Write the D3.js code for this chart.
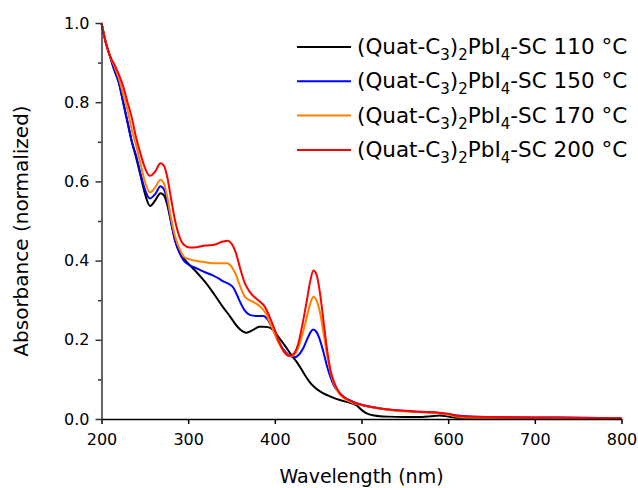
<!DOCTYPE html>
<html>
<head>
<meta charset="utf-8">
<script src="https://cdn.jsdelivr.net/npm/d3@7"></script>
<style>
html,body{margin:0;padding:0;background:#fff;}
svg{display:block;font-family:"DejaVu Sans",Verdana,sans-serif;}
</style>
</head>
<body>
<svg id="chart" width="638" height="488"></svg>
<script>
// ---- data ----
const wl110 = [200,205,210,215,220,225,230,235,240,245,250,256,262,268,272,276,280,285,290,295,302,310,320,330,340,348,355,360,367,375,382,387,392,398,405,412,419,425,430,435,440,445,450,455,465,475,485,490,495,500,506,515,530,550,570,580,590,600,610,650,700,750,800];
const ab110 = [1.0,0.95,0.915,0.88,0.85,0.80,0.75,0.70,0.66,0.615,0.57,0.538,0.552,0.570,0.565,0.54,0.50,0.45,0.42,0.405,0.388,0.37,0.345,0.315,0.283,0.26,0.238,0.226,0.218,0.225,0.233,0.233,0.232,0.225,0.205,0.184,0.162,0.145,0.128,0.11,0.094,0.082,0.073,0.066,0.056,0.048,0.042,0.039,0.033,0.023,0.014,0.009,0.006,0.005,0.005,0.007,0.009,0.006,0.003,0.003,0.002,0.002,0.002];

const wl150 = [200,205,210,215,220,225,230,235,240,245,250,256,262,268,272,276,280,285,290,295,302,310,320,329,335,340,345,352,356,360,365,371,380,387,392,397,403,410,417,423,428,433,438,442,444.5,448,452,456,460,464,468,475,480,490,500,510,520,540,560,580,600,620,650,700,750,800];
const ab150 = [1.0,0.95,0.915,0.88,0.85,0.80,0.75,0.70,0.665,0.62,0.58,0.557,0.568,0.588,0.58,0.55,0.50,0.45,0.42,0.40,0.388,0.38,0.37,0.362,0.355,0.348,0.343,0.332,0.315,0.295,0.275,0.263,0.26,0.26,0.25,0.23,0.20,0.175,0.16,0.156,0.163,0.18,0.205,0.222,0.226,0.22,0.20,0.17,0.135,0.107,0.085,0.065,0.055,0.044,0.036,0.031,0.027,0.022,0.019,0.017,0.012,0.007,0.005,0.004,0.003,0.002];

const wl170 = [200,205,210,215,220,225,230,235,240,245,250,256,262,268,272,276,280,285,290,295,302,310,320,330,340,345,350,355,360,365,371,378,385,390,395,400,405,410,419,425,430,435,440,444.5,448,452,456,460,464,468,475,480,490,500,510,520,540,560,580,590,600,610,620,650,700,750,800];
const ab170 = [1.0,0.95,0.915,0.89,0.86,0.82,0.78,0.73,0.69,0.645,0.60,0.572,0.585,0.604,0.595,0.56,0.51,0.46,0.43,0.41,0.403,0.399,0.396,0.393,0.393,0.393,0.385,0.365,0.335,0.31,0.30,0.292,0.28,0.265,0.24,0.215,0.19,0.172,0.159,0.17,0.20,0.24,0.285,0.309,0.30,0.27,0.22,0.165,0.12,0.09,0.062,0.052,0.041,0.035,0.03,0.027,0.021,0.018,0.016,0.015,0.011,0.006,0.004,0.003,0.003,0.002,0.002];

const wl200 = [200,205,210,215,220,225,230,235,240,245,250,256,262,268,272,276,280,285,290,295,302,310,320,330,340,345,350,355,360,365,371,378,383,388,394,400,405,410,417,422,427,432,437,441,444.5,448,452,456,460,464,468,475,480,490,500,510,520,540,560,580,590,600,610,620,650,700,750,800];
const ab200 = [1.0,0.95,0.915,0.895,0.87,0.84,0.80,0.76,0.71,0.67,0.635,0.614,0.625,0.646,0.64,0.61,0.56,0.50,0.46,0.44,0.433,0.434,0.438,0.44,0.448,0.45,0.443,0.42,0.38,0.345,0.321,0.305,0.296,0.285,0.258,0.225,0.195,0.172,0.159,0.165,0.19,0.24,0.30,0.35,0.375,0.365,0.32,0.25,0.18,0.125,0.095,0.065,0.055,0.043,0.036,0.031,0.027,0.022,0.019,0.017,0.016,0.013,0.008,0.006,0.005,0.004,0.003,0.002];

const seriesNames = ["110 °C","150 °C","170 °C","200 °C"];
const seriesColors = ["#000000","#0000ff","#ff8000","#ff0000"];
const xTicks = [200,300,400,500,600,700,800];
const yTicks = [0.0,0.2,0.4,0.6,0.8,1.0];
const yMinorTicks = [0.1,0.3,0.5,0.7,0.9];

const series = [
  {x: wl110, y: ab110},
  {x: wl150, y: ab150},
  {x: wl170, y: ab170},
  {x: wl200, y: ab200}
];

// ---- layout ----
const svg = d3.select("#chart");
const mLeft = 101.5, mRight = 621.5, mTop = 23, mBottom = 419;
const x = d3.scaleLinear().domain([200,800]).range([mLeft,mRight]);
const y = d3.scaleLinear().domain([0,1]).range([mBottom,mTop]);

// curves
const line = d3.line().curve(d3.curveMonotoneX);
series.forEach((s,i)=>{
  const pts = s.x.map((v,j)=>[x(v), y(s.y[j])]);
  svg.append("path").attr("d", line(pts))
    .attr("fill","none").attr("stroke",seriesColors[i])
    .attr("stroke-width",2).attr("stroke-linejoin","round");
});

// axes
const xAxis = d3.axisBottom(x).tickValues(xTicks).tickFormat(d3.format("d")).tickSize(5).tickSizeOuter(0);
const gx = svg.append("g").attr("transform",`translate(0,${mBottom})`).call(xAxis);
gx.select(".domain").attr("stroke","#000").attr("stroke-width",1.5);
gx.selectAll(".tick line").attr("stroke","#000").attr("stroke-width",1.5);
gx.selectAll(".tick text").attr("font-size",16).attr("fill","#000").attr("dy","0.75em").attr("y",14)
  .attr("font-family","DejaVu Sans, Verdana, sans-serif");

const yAxis = d3.axisLeft(y).tickValues(yTicks).tickFormat(d3.format(".1f")).tickSize(6).tickSizeOuter(0);
const gy = svg.append("g").attr("transform",`translate(${mLeft},0)`).call(yAxis);
gy.select(".domain").attr("stroke","#333").attr("stroke-width",1.5);
gy.selectAll(".tick line").attr("stroke","#333").attr("stroke-width",1.5);
gy.selectAll(".tick text").attr("font-size",16).attr("fill","#000").attr("x",-12)
  .attr("font-family","DejaVu Sans, Verdana, sans-serif");

const yMinor = d3.axisLeft(y).tickValues(yMinorTicks).tickFormat("").tickSize(3.5).tickSizeOuter(0);
const gym = svg.append("g").attr("transform",`translate(${mLeft},0)`).call(yMinor);
gym.select(".domain").remove();
gym.selectAll(".tick line").attr("stroke","#333").attr("stroke-width",1.5);

// axis titles
svg.append("text").attr("x",(mLeft+mRight)/2).attr("y",483)
  .attr("text-anchor","middle").attr("font-size",19).attr("fill","#000")
  .text("Wavelength (nm)");
svg.append("text").attr("transform",`translate(28,231) rotate(-90)`)
  .attr("text-anchor","middle").attr("font-size",20).attr("fill","#000")
  .text("Absorbance (normalized)");

// legend
const lg = svg.append("g");
seriesNames.forEach((name,i)=>{
  const ly = 47 + i*34.3;
  lg.append("line").attr("x1",297).attr("x2",351).attr("y1",ly).attr("y2",ly)
    .attr("stroke",seriesColors[i]).attr("stroke-width",2);
  const t = lg.append("text").attr("x",357).attr("y",ly+7).attr("font-size",21.5).attr("fill","#000");
  t.append("tspan").text("(Quat-C");
  t.append("tspan").attr("font-size",15).attr("dy",6).text("3");
  t.append("tspan").attr("dy",-6).text(")");
  t.append("tspan").attr("font-size",15).attr("dy",6).text("2");
  t.append("tspan").attr("dy",-6).text("PbI");
  t.append("tspan").attr("font-size",15).attr("dy",6).text("4");
  t.append("tspan").attr("dy",-6).text("-SC " + name);
});
</script>
</body>
</html>
